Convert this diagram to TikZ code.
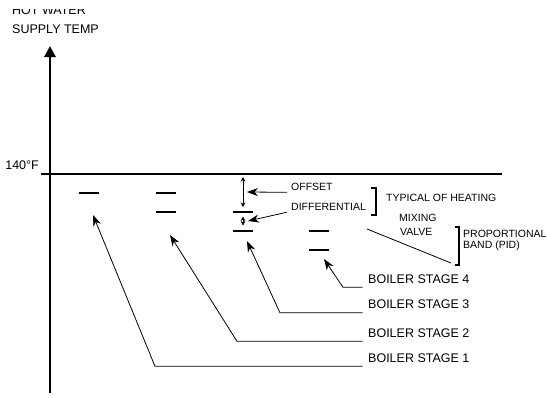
\documentclass[tikz,border=0pt]{standalone}
\usepackage{fontspec}
\setmainfont{Liberation Sans}
\usetikzlibrary{arrows.meta}

\begin{document}
\begin{tikzpicture}[x=1pt,y=-1pt,
  bigtxt/.style={font=\fontsize{12.5}{15}\selectfont, inner sep=0pt, anchor=base west},
  smalltxt/.style={font=\fontsize{10.5}{12.5}\selectfont, inner sep=0pt, anchor=base west},
  stagetxt/.style={bigtxt, inner xsep=5.5pt, inner ysep=4pt},
  notetxt/.style={smalltxt, inner xsep=4pt, inner ysep=2pt},
  setpt/.style={line width=2pt},
  pointer/.style={line width=0.8pt, -{Stealth[length=11pt,width=8pt,inset=3.5pt]}},
  span/.style={line width=0.6pt, {Stealth[length=4.5pt,width=4.5pt]}-{Stealth[length=4.5pt,width=4.5pt]}},
  bracket/.style={line width=2pt, line join=miter}]
  \useasboundingbox (0,0) rectangle (547,397);

  % Axis title (top cut off as in the sheet)
  \begin{scope}
    \clip (0,9) rectangle (547,397);
    \node[bigtxt] (hot) at (12,14) {HOT WATER};
  \end{scope}
  \node[bigtxt] (supply) at (12,33) {SUPPLY TEMP};

  % Axes
  \draw[line width=2.8pt, -{Triangle[length=11pt,width=11pt]}] (50,393) -- (50,46);
  \draw[line width=2.4pt] (41,174) -- (502,174);
  \node[bigtxt, anchor=base east] (temp) at (39,169) {140\textdegree F};

  % Stage set points
  \draw[setpt] (79,193) -- (99,193);
  \draw[setpt] (156,193) -- (176,193);
  \draw[setpt] (156,212) -- (176,212);
  \draw[setpt] (233,212) -- (253,212);
  \draw[setpt] (233,231) -- (253,231);
  \draw[setpt] (309,231) -- (329,231);
  \draw[setpt] (309,250) -- (329,250);

  % Offset and differential
  \draw[span] (243,177) -- (243,207);
  \draw[span] (243,216.5) -- (243,225.5);
  \node[notetxt] (offset) at (287,190) {OFFSET};
  \node[notetxt] (diff) at (287,210) {DIFFERENTIAL};
  \coordinate (tipoff) at (247,192);
  \coordinate (tipdiff) at (248,221);
  \draw[pointer] (offset.south west) -- (tipoff);
  \draw[pointer] (diff.south west) -- (tipdiff);

  % Brackets
  \draw[bracket] (371,188) -- (376,188) -- (376,215) -- (371,215);
  \node[smalltxt] (typical) at (386,201) {TYPICAL OF HEATING};
  \node[smalltxt] (mixing) at (399,221) {MIXING};
  \node[smalltxt] (valve) at (400,235) {VALVE};

  \draw[bracket] (455,227) -- (459,227) -- (459,265) -- (455,265);
  \node[smalltxt] (prop) at (463,237) {PROPORTIONAL};
  \node[smalltxt] (band) at (463,248) {BAND (PID)};
  \coordinate (mvstart) at (367,229);
  \coordinate (pidend) at (451,263);
  \draw[line width=0.8pt] (mvstart) -- (pidend);

  % Boiler stages
  \node[stagetxt] (st4) at (362.5,283) {BOILER STAGE 4};
  \node[stagetxt] (st3) at (362.5,308.5) {BOILER STAGE 3};
  \node[stagetxt] (st2) at (362.5,337) {BOILER STAGE 2};
  \node[stagetxt] (st1) at (362.5,362) {BOILER STAGE 1};

  \coordinate (tip4) at (324,259);
  \coordinate (tip3) at (247,241);
  \coordinate (tip2) at (170,235);
  \coordinate (tip1) at (93,215);
  \draw[pointer] (st4.south west) -- ++(-19.5,0) -- (tip4);
  \draw[pointer] (st3.south west) -- ++(-82.5,0) -- (tip3);
  \draw[pointer] (st2.south west) -- ++(-125.5,0) -- (tip2);
  \draw[pointer] (st1.south west) -- ++(-207.5,0) -- (tip1);
\end{tikzpicture}
\end{document}
